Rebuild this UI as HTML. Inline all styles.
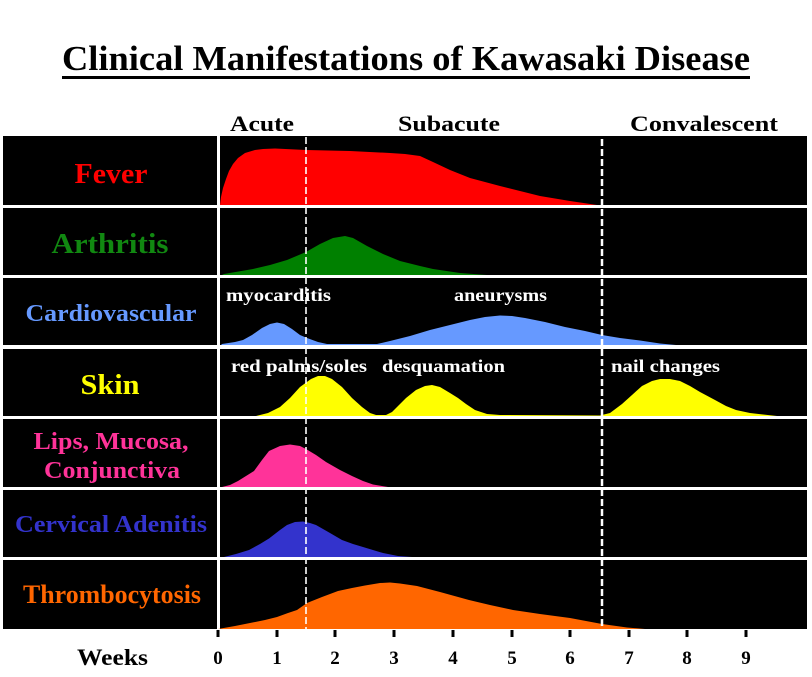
<!DOCTYPE html>
<html><head><meta charset="utf-8"><style>
html,body{margin:0;padding:0;background:#fff;}
svg{display:block;}
text{font-family:"Liberation Serif",serif;font-weight:bold;}
</style></head><body>
<svg width="812" height="677" viewBox="0 0 812 677" xmlns="http://www.w3.org/2000/svg">
<rect width="812" height="677" fill="#fff"/>
<!-- Title -->
<text x="62" y="70" font-size="35" fill="#000" textLength="688" lengthAdjust="spacingAndGlyphs">Clinical Manifestations of Kawasaki Disease</text>
<rect x="62" y="76" width="688" height="3" fill="#000"/>
<!-- Phase labels -->
<text x="230" y="131" font-size="22" fill="#000" textLength="64" lengthAdjust="spacingAndGlyphs">Acute</text>
<text x="398" y="131" font-size="22" fill="#000" textLength="102" lengthAdjust="spacingAndGlyphs">Subacute</text>
<text x="630" y="131" font-size="22" fill="#000" textLength="148" lengthAdjust="spacingAndGlyphs">Convalescent</text>
<!-- Black panels -->
<g fill="#000">
<rect x="3" y="136" width="214" height="69"/>
<rect x="3" y="208" width="214" height="67"/>
<rect x="3" y="278" width="214" height="67"/>
<rect x="3" y="349" width="214" height="67"/>
<rect x="3" y="419" width="214" height="68"/>
<rect x="3" y="490" width="214" height="67"/>
<rect x="3" y="560" width="214" height="69"/>
<rect x="220" y="136" width="587" height="69"/>
<rect x="220" y="208" width="587" height="67"/>
<rect x="220" y="278" width="587" height="67"/>
<rect x="220" y="349" width="587" height="67"/>
<rect x="220" y="419" width="587" height="68"/>
<rect x="220" y="490" width="587" height="67"/>
<rect x="220" y="560" width="587" height="69"/>
</g>
<!-- Curves -->
<path fill="#ff0000" d="M220,205 L221,197 L223,188 L226,179 L229,171 L233,164 L238,158 L245,153 L255,150 L263,149 L275,148.5 L306,150 L350,151 L390,153 L405,154 L420,156 L433,162 L450,170 L470,178 L500,186 L540,196 L570,201 L597,205 Z"/>
<path fill="#008000" d="M222,275 L224,274 L253,269 L270,265 L287,260 L306,252 L320,244 L333,238 L345,236 L353,238 L367,246 L383,254 L400,261 L420,266 L433,269 L460,273 L487,275 Z"/>
<path fill="#6699ff" d="M221,345 L222,344 L235,342 L243,340 L252,335 L262,328 L270,324 L277,322.5 L284,324 L292,329 L300,335 L307,338 L318,342 L327,344 L377,344 L390,341 L410,336 L430,330 L450,325 L470,320 L485,317 L500,315.5 L512,316 L525,318 L545,322 L565,327 L585,331 L602,335 L620,338 L640,340.5 L660,343.5 L676,345 Z"/>
<path fill="#ffff00" d="M256,416 L268,413 L280,407 L290,398 L300,387 L311,379 L318,376 L325,376 L332,379 L342,387 L352,398 L362,407 L370,413 L376,415 L386,415 L392,412 L399,405 L406,398 L416,390 L425,386 L432,385 L440,387 L450,393 L458,398 L466,404 L475,410 L487,414 L500,415 L600,415.5 L610,413 L622,404 L632,395 L642,386 L652,381 L660,379 L670,379 L680,381 L690,386 L700,392 L715,400 L726,406 L736,410 L750,413 L777,416 Z"/>
<path fill="#ff3399" d="M222,487 L230,485 L238,481 L246,476 L254,471 L262,460 L269,451 L280,446 L290,444.5 L300,446 L306,449 L316,455 L326,462 L340,470 L352,476 L363,481 L373,484.5 L388,487 Z"/>
<path fill="#3333cc" d="M224,557 L236,554 L249,550 L260,544 L269,538.5 L280,530 L287,525 L295,522 L303,521.5 L310,523 L316,525 L330,533 L342,540 L353,544 L363,547 L383,553 L398,556 L412,557 Z"/>
<path fill="#ff6600" d="M218,629 L235,626 L250,623 L265,620 L277,617 L288,613 L297,610 L307,603 L322,597 L338,591 L352,588 L365,585.5 L380,583 L390,582.5 L400,583.5 L417,586 L440,592 L469,600 L490,605 L513,610 L540,614 L570,618 L602,624 L627,627.5 L645,629 Z"/>
<!-- Dashed phase lines -->
<line x1="306" y1="137" x2="306" y2="629" stroke="#fff" stroke-width="1.6" stroke-dasharray="7,3"/>
<line x1="602" y1="139" x2="602" y2="629" stroke="#fff" stroke-width="2.5" stroke-dasharray="7,3"/>
<!-- Row labels -->
<g text-anchor="middle">
<text x="111" y="183" font-size="29" fill="#ff0000" textLength="73" lengthAdjust="spacingAndGlyphs">Fever</text>
<text x="110" y="253" font-size="28" fill="#118811" textLength="117" lengthAdjust="spacingAndGlyphs">Arthritis</text>
<text x="111" y="321" font-size="24" fill="#6699ff" textLength="171" lengthAdjust="spacingAndGlyphs">Cardiovascular</text>
<text x="110" y="394" font-size="28" fill="#ffff00" textLength="59" lengthAdjust="spacingAndGlyphs">Skin</text>
<text x="111" y="449" font-size="24" fill="#ff3399" textLength="155" lengthAdjust="spacingAndGlyphs">Lips, Mucosa,</text>
<text x="112" y="478" font-size="24" fill="#ff3399" textLength="136" lengthAdjust="spacingAndGlyphs">Conjunctiva</text>
<text x="111" y="532" font-size="24" fill="#3333cc" textLength="192" lengthAdjust="spacingAndGlyphs">Cervical Adenitis</text>
<text x="112" y="603" font-size="26" fill="#ff6600" textLength="178" lengthAdjust="spacingAndGlyphs">Thrombocytosis</text>
</g>
<!-- Annotations -->
<g fill="#fff" font-size="18">
<text x="226" y="301" textLength="105" lengthAdjust="spacingAndGlyphs">myocarditis</text>
<text x="454" y="301" textLength="93" lengthAdjust="spacingAndGlyphs">aneurysms</text>
<text x="231" y="372" textLength="136" lengthAdjust="spacingAndGlyphs">red palms/soles</text>
<text x="382" y="372" textLength="123" lengthAdjust="spacingAndGlyphs">desquamation</text>
<text x="611" y="372" textLength="109" lengthAdjust="spacingAndGlyphs">nail changes</text>
</g>
<!-- Axis ticks -->
<g stroke="#000" stroke-width="3">
<line x1="218" y1="630" x2="218" y2="637"/>
<line x1="277" y1="630" x2="277" y2="637"/>
<line x1="335" y1="630" x2="335" y2="637"/>
<line x1="394" y1="630" x2="394" y2="637"/>
<line x1="453" y1="630" x2="453" y2="637"/>
<line x1="512" y1="630" x2="512" y2="637"/>
<line x1="570" y1="630" x2="570" y2="637"/>
<line x1="629" y1="630" x2="629" y2="637"/>
<line x1="687" y1="630" x2="687" y2="637"/>
<line x1="746" y1="630" x2="746" y2="637"/>
</g>
<g font-size="19" fill="#000" text-anchor="middle">
<text x="218" y="664">0</text>
<text x="277" y="664">1</text>
<text x="335" y="664">2</text>
<text x="394" y="664">3</text>
<text x="453" y="664">4</text>
<text x="512" y="664">5</text>
<text x="570" y="664">6</text>
<text x="629" y="664">7</text>
<text x="687" y="664">8</text>
<text x="746" y="664">9</text>
</g>
<text x="77" y="665" font-size="23" fill="#000" textLength="71" lengthAdjust="spacingAndGlyphs">Weeks</text>
</svg>
</body></html>
